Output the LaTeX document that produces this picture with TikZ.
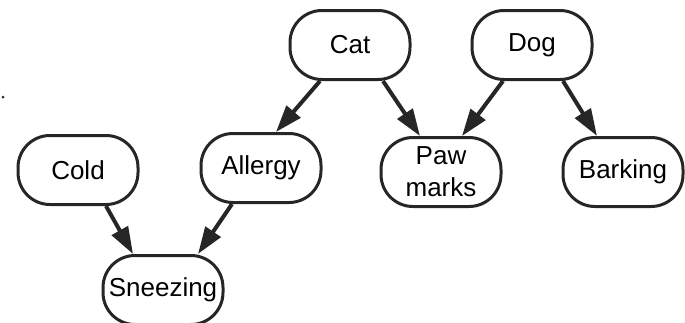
\documentclass[tikz,border=0pt]{standalone}
\usepackage{fontspec}
\setmainfont{Liberation Sans}
\usetikzlibrary{arrows.meta}
\tikzset{
    event/.style={draw=black!85, line width=3pt, rounded corners=32pt,
        minimum width=120pt, minimum height=69pt, inner sep=2pt,
        align=center, font=\fontsize{26}{32}\selectfont},
    cause/.style={draw=black!85, line width=4pt,
        -{Triangle[length=27pt,width=18pt]}}
}
\begin{document}
\begin{tikzpicture}[x=1pt, y=1pt]
    \useasboundingbox (0,0) rectangle (685,-322);
    \node[event] (cat) at (350,-45) {Cat};
    \node[event] (dog) at (532,-45) {Dog};
    \node[event] (cold) at (78,-170) {Cold};
    \node[event] (allergy) at (261,-168) {Allergy};
    \node[event] (paw) at (441,-172) {Paw\\marks};
    \node[event] (barking) at (623,-172) {Barking};
    \node[event] (sneezing) at (163,-290) {Sneezing};

    \fill[black!85] (3,-97) circle (1.5pt);

    \draw[cause] ([xshift=-30pt]cat.south) -- ([xshift=15pt]allergy.north);
    \draw[cause] ([xshift=33pt]cat.south) -- ([xshift=-21pt]paw.north);
    \draw[cause] ([xshift=-29pt]dog.south) -- ([xshift=21pt]paw.north);
    \draw[cause] ([xshift=31pt]dog.south) -- ([xshift=-26pt]barking.north);
    \draw[cause] ([xshift=28pt]cold.south) -- ([xshift=-30pt]sneezing.north);
    \draw[cause] ([xshift=-29pt]allergy.south) -- ([xshift=35pt]sneezing.north);
\end{tikzpicture}
\end{document}
